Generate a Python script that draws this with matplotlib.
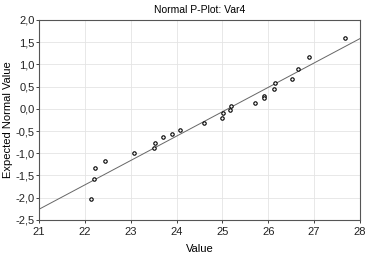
import matplotlib
matplotlib.use("Agg")
import matplotlib.pyplot as plt
from matplotlib.ticker import FuncFormatter

values = [27.67, 26.89, 26.64, 26.51, 26.15, 26.12, 25.91, 25.91, 25.71, 25.19,
          25.16, 25.01, 24.99, 24.60, 24.08, 23.90, 23.70, 23.54, 23.51, 23.08,
          22.44, 22.23, 22.20, 22.13]
expected = [1.60, 1.17, 0.905, 0.67, 0.59, 0.445, 0.29, 0.24, 0.14, 0.06,
            -0.03, -0.105, -0.20, -0.325, -0.47, -0.56, -0.64, -0.76, -0.875, -0.99,
            -1.17, -1.34, -1.58, -2.02]

# reference line end points
line_x = [21, 28]
line_y = [-2.26, 1.58]

x_ticks = [21, 22, 23, 24, 25, 26, 27, 28]
y_ticks = [-2.5, -2.0, -1.5, -1.0, -0.5, 0.0, 0.5, 1.0, 1.5, 2.0]

plt.rcParams["font.family"] = ["Liberation Sans", "DejaVu Sans"]

fig = plt.figure(figsize=(3.65, 2.56), dpi=100)
ax = fig.add_axes([0.107, 0.141, 0.879, 0.781])

ax.plot(line_x, line_y, color="#666666", lw=0.7, zorder=2)
ax.scatter(values, expected, s=6, facecolors="white", edgecolors="black",
           linewidths=0.8, zorder=3)

ax.set_xlim(21, 28)
ax.set_ylim(-2.5, 2.0)
ax.set_xticks(x_ticks)
ax.set_yticks(y_ticks)
ax.yaxis.set_major_formatter(FuncFormatter(lambda v, p: f"{v:.1f}".replace(".", ",")))
ax.tick_params(labelsize=8, length=2, width=0.6, colors="#222222")
ax.tick_params(axis="x", pad=3)
ax.tick_params(axis="y", pad=1)
ax.grid(True, color="#e4e4e4", lw=0.6)
ax.set_axisbelow(True)
for sp in ax.spines.values():
    sp.set_color("#555555")
    sp.set_linewidth(0.8)

ax.set_title("Normal P-Plot: Var4", fontsize=7.5, pad=5)
ax.set_xlabel("Value", fontsize=8, labelpad=5)
ax.set_ylabel("Expected Normal Value", fontsize=8, labelpad=2)

fig.savefig("out.png", dpi=100)
